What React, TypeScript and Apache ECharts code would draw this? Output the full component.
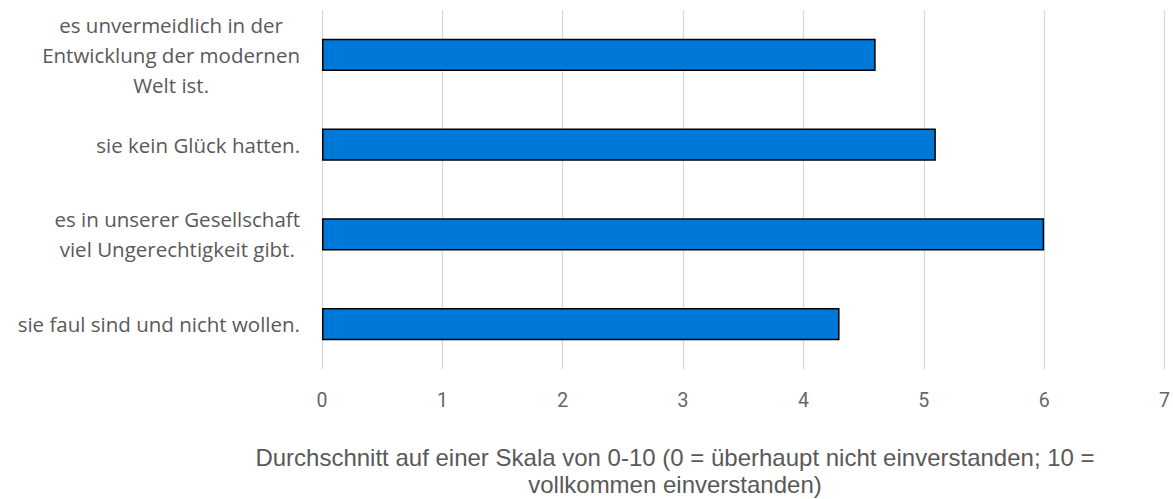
import React, { useEffect, useRef } from "react";
import * as echarts from "echarts";

const categories = [
  "sie faul sind und nicht wollen.",
  "es in unserer Gesellschaft\nviel Ungerechtigkeit gibt.",
  "sie kein Glück hatten.",
  "es unvermeidlich in der\nEntwicklung der modernen\nWelt ist.",
];
const values = [4.3, 6.0, 5.1, 4.6];
const xTicks = [0, 1, 2, 3, 4, 5, 6, 7];
const axisTitle = [
  "Durchschnitt auf einer Skala von 0-10 (0 = überhaupt nicht einverstanden; 10 =",
  "vollkommen einverstanden)",
];

const FONT = "'Open Sans', sans-serif";

export default function App() {
  const ref = useRef<HTMLDivElement>(null);
  useEffect(() => {
    document.body.style.margin = "0";
    if (!ref.current) return;
    const chart = echarts.init(ref.current, null, { renderer: "svg" });
    chart.setOption({
      animation: false,
      grid: { left: 322, right: 6, top: 10, bottom: 130, containLabel: false },
      xAxis: {
        type: "value",
        min: xTicks[0],
        max: xTicks[xTicks.length - 1],
        interval: 1,
        axisLine: { show: false },
        axisTick: { show: false },
        splitLine: { show: true, lineStyle: { color: "#d9d9d9", width: 1.3 } },
        axisLabel: { color: "#666666", fontSize: 19.5, fontFamily: "Roboto, sans-serif", margin: 21 },
      },
      yAxis: {
        type: "category",
        data: categories,
        axisLine: { show: false },
        axisTick: { show: false },
        axisLabel: {
          margin: 22,
          formatter: (v: string) =>
            v
              .split("\n")
              .map((l) => `{c|${l}}`)
              .join("\n"),
          rich: {
            c: {
              align: "center",
              color: "#595959",
              fontSize: 20.5,
              fontFamily: FONT,
              lineHeight: 30,
            },
          },
        },
      },
      series: [
        {
          type: "bar",
          data: values,
          barWidth: "36%",
          itemStyle: { color: "#0078D7", borderColor: "#000", borderWidth: 1.5 },
        },
      ],
      graphic: axisTitle.map((line, i) => ({
        type: "text",
        x: 675,
        y: 457 + i * 27,
        style: {
          text: line,
          align: "center",
          verticalAlign: "middle",
          fill: "#595959",
          fontSize: 24,
          fontFamily: "'Liberation Sans', sans-serif",
        },
      })),
    });
    return () => chart.dispose();
  }, []);
  return <div ref={ref} style={{ width: 1173, height: 499 }} />;
}
